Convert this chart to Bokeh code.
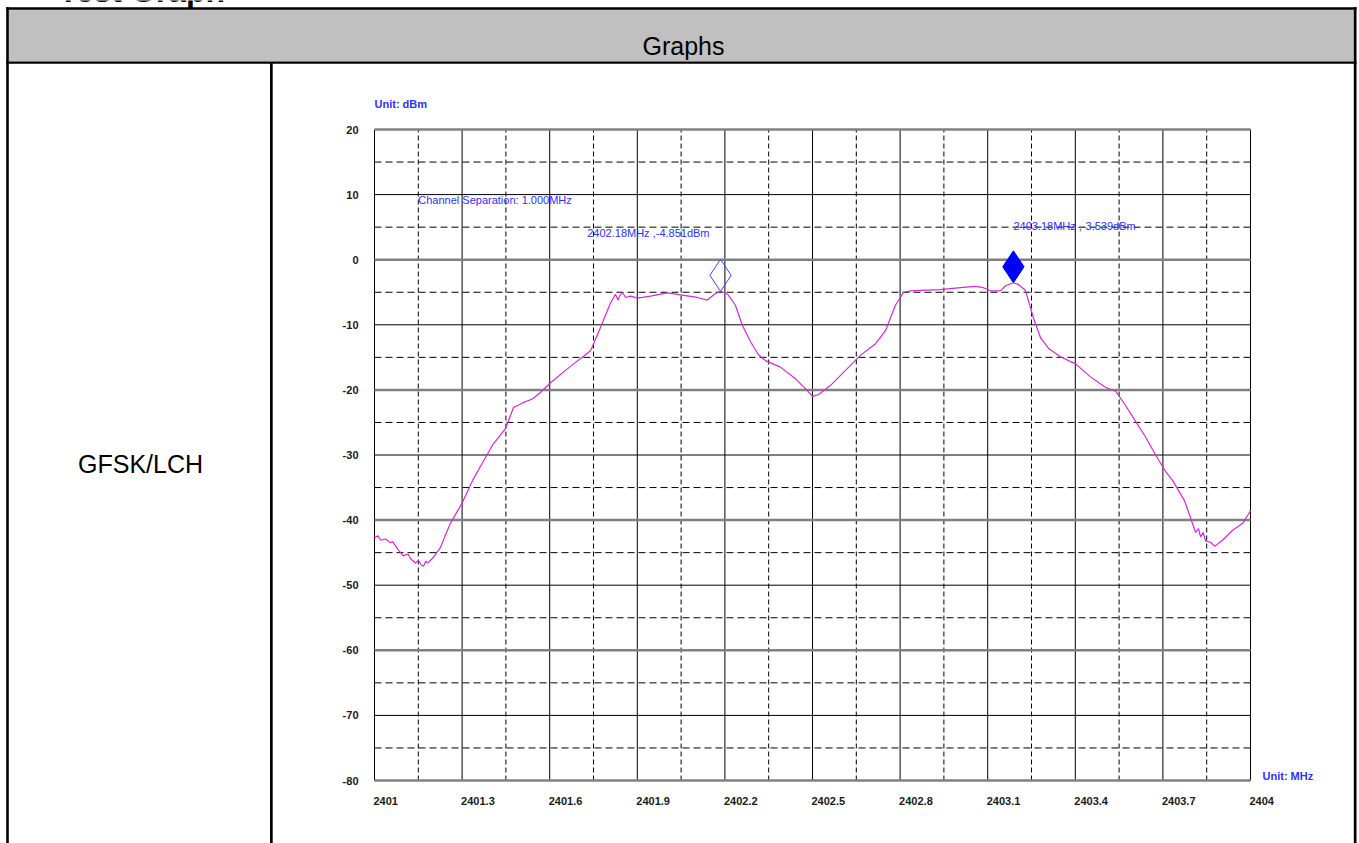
from bokeh.plotting import figure
from bokeh.models import Range1d
from bokeh.core.properties import value
from bokeh.embed import file_html
from bokeh.resources import INLINE

# ---------------- data ----------------
freq = [2401.000, 2401.012, 2401.021, 2401.038, 2401.055, 2401.062, 2401.082, 2401.099,
        2401.115, 2401.123, 2401.140, 2401.151, 2401.160, 2401.168, 2401.176, 2401.182,
        2401.202, 2401.226, 2401.243, 2401.260, 2401.301, 2401.336, 2401.370, 2401.404,
        2401.449, 2401.476, 2401.507, 2401.541, 2401.568, 2401.603, 2401.654, 2401.705,
        2401.740, 2401.774, 2401.808, 2401.825, 2401.834, 2401.839, 2401.849, 2401.860,
        2401.877, 2401.901, 2401.945, 2402.003, 2402.048, 2402.106, 2402.140, 2402.164,
        2402.185, 2402.209, 2402.236, 2402.260, 2402.288, 2402.315, 2402.339, 2402.390,
        2402.442, 2402.476, 2402.500, 2402.521, 2402.562, 2402.613, 2402.664, 2402.716,
        2402.750, 2402.784, 2402.812, 2402.836, 2402.870, 2402.938, 2403.007, 2403.058,
        2403.086, 2403.110, 2403.144, 2403.161, 2403.188, 2403.205, 2403.229, 2403.257,
        2403.281, 2403.308, 2403.349, 2403.401, 2403.452, 2403.503, 2403.538, 2403.572,
        2403.606, 2403.640, 2403.675, 2403.709, 2403.733, 2403.774, 2403.812, 2403.822,
        2403.829, 2403.838, 2403.846, 2403.863, 2403.877, 2403.890, 2403.904, 2403.938,
        2403.973, 2403.997, 2404.000]
level = [-42.7, -42.4, -43.1, -42.9, -43.5, -43.3, -44.6, -45.5,
         -45.2, -45.9, -46.6, -46.2, -46.9, -47.1, -46.3, -46.6,
         -45.7, -44.2, -42.3, -40.5, -37.3, -33.9, -31.2, -28.5,
         -25.9, -22.7, -22.0, -21.4, -20.4, -18.9, -17.0, -15.2,
         -14.0, -10.4, -6.7, -5.3, -6.2, -5.6, -5.0, -5.8,
         -5.6, -5.9, -5.6, -5.1, -5.4, -5.8, -6.2, -5.3,
         -4.85, -5.3, -7.0, -10.1, -12.6, -14.6, -15.5, -16.5,
         -18.3, -19.8, -21.0, -20.7, -19.3, -17.0, -14.7, -12.9,
         -10.9, -7.0, -5.0, -4.8, -4.7, -4.6, -4.3, -4.1,
         -4.3, -4.8, -4.8, -4.0, -3.54, -3.8, -4.7, -9.0,
         -12.0, -13.6, -14.9, -16.0, -18.0, -19.6, -20.2, -22.4,
         -24.8, -27.2, -30.0, -32.5, -33.9, -37.0, -41.9, -41.3,
         -42.6, -41.9, -43.2, -43.4, -44.0, -43.6, -43.1, -41.6,
         -40.5, -38.8, -38.5]

x_ticks = [2401.0, 2401.3, 2401.6, 2401.9, 2402.2, 2402.5, 2402.8, 2403.1, 2403.4, 2403.7, 2404.0]
x_tick_labels = ["2401", "2401.3", "2401.6", "2401.9", "2402.2", "2402.5", "2402.8",
                 "2403.1", "2403.4", "2403.7", "2404"]
x_minor = [2401.15, 2401.45, 2401.75, 2402.05, 2402.35, 2402.65, 2402.95, 2403.25, 2403.55, 2403.85]

y_ticks = [20, 10, 0, -10, -20, -30, -40, -50, -60, -70, -80]
y_tick_labels = ["20", "10", "0", "-10", "-20", "-30", "-40", "-50", "-60", "-70", "-80"]
y_heavy = [20, 0, -20, -40, -60, -80]
y_thin = [10, -10, -30, -50, -70]
y_minor = [15, 5, -5, -15, -25, -35, -45, -55, -65, -75]

mk_freq = [2402.185, 2403.188]
mk_level = [-4.851, -3.539]
mk_text = ["2402.18MHz ,-4.851dBm", "2403.18MHz ,-3.539dBm"]

page_title = "Test Graph"
header_text = "Graphs"
row_text = "GFSK/LCH"
sep_text = "Channel Separation: 1.000MHz"
x_unit = "Unit: MHz"
y_unit = "Unit: dBm"

# ---------------- layout / style ----------------
FONT = value("Liberation Sans")
BLUE = "#3030ff"
TRACE = "#d42ad4"
CW, CH = 1359, 843                     # canvas
FX0, FX1, FY0, FY1 = 374, 1250, 129, 780  # chart area on the canvas (px)

x_lo, x_hi = x_ticks[0], x_ticks[-1]
y_lo, y_hi = y_ticks[-1], y_ticks[0]
mhz_per_px = (x_hi - x_lo) / (FX1 - FX0)
db_per_px = (y_hi - y_lo) / (FY1 - FY0)

p = figure(width=CW, height=CH,
           x_range=Range1d(x_lo - FX0 * mhz_per_px, x_hi + (CW - FX1) * mhz_per_px),
           y_range=Range1d(y_lo - (CH - FY1) * db_per_px, y_hi + FY0 * db_per_px),
           extra_x_ranges={"px": Range1d(0, CW)}, extra_y_ranges={"px": Range1d(CH, 0)},
           x_axis_type=None, y_axis_type=None, min_border=0, outline_line_color=None,
           toolbar_location=None, output_backend="svg",
           background_fill_color="white", border_fill_color="white")

PX = dict(x_range_name="px", y_range_name="px")

# ---- table frame (page layout) ----
p.quad(left=8, right=1353.3, top=9, bottom=61, color="#c0c0c0", line_color=None, **PX)
p.quad(left=[5.7, 5.7, 5.7, 1353.3, 269.5],
       right=[1356, 1356, 8.3, 1356, 272.2],
       top=[6.8, 61, 6.8, 6.8, 62],
       bottom=[9.2, 63.3, CH, CH, CH],
       color="black", line_color=None, **PX)
p.text(x=[58], y=[-10], text=[page_title], text_font=FONT, text_font_size="32px",
       text_font_style="bold", text_color="black", text_align="left",
       text_baseline="middle", **PX)
p.text(x=[683], y=[45], text=[header_text], text_font=FONT, text_font_size="25px",
       text_color="black", text_align="center", text_baseline="middle", **PX)
p.text(x=[140], y=[463], text=[row_text], text_font=FONT, text_font_size="25px",
       text_color="black", text_align="center", text_baseline="middle", **PX)

# ---- chart grid ----
p.segment(x0=x_ticks, y0=y_lo, x1=x_ticks, y1=y_hi, line_color="black", line_width=1)
p.segment(x0=x_minor, y0=y_lo, x1=x_minor, y1=y_hi, line_color="black", line_width=1,
          line_dash="5 3")
p.segment(x0=x_lo, y0=y_minor, x1=x_hi, y1=y_minor, line_color="black", line_width=1,
          line_dash="7 4")
p.segment(x0=x_lo, y0=y_thin, x1=x_hi, y1=y_thin, line_color="black", line_width=1)
p.segment(x0=x_lo, y0=y_heavy, x1=x_hi, y1=y_heavy, line_color="#808080", line_width=2.5)

# ---- tick labels ----
p.text(x=x_ticks, y=y_lo, text=x_tick_labels, x_offset=-1, y_offset=20,
       text_font=FONT, text_font_size="11px", text_font_style="bold", text_color="#1a1a1a",
       text_align="left", text_baseline="middle")
p.text(x=x_lo, y=y_ticks, text=y_tick_labels, x_offset=-16, y_offset=0,
       text_font=FONT, text_font_size="11px", text_font_style="bold", text_color="#1a1a1a",
       text_align="right", text_baseline="middle")
p.text(x=[x_lo], y=[y_hi], text=[y_unit], y_offset=-26, text_font=FONT, text_font_size="11px",
       text_font_style="bold", text_color=BLUE, text_align="left", text_baseline="middle")
p.text(x=[x_hi], y=[y_lo], text=[x_unit], x_offset=12, y_offset=-5, text_font=FONT,
       text_font_size="11px", text_font_style="bold", text_color=BLUE, text_align="left",
       text_baseline="middle")

# ---- trace and markers ----
p.line(freq, level, line_color=TRACE, line_width=1.2)

mk_y = [v + 2.45 for v in mk_level]
p.scatter([mk_freq[0]], [mk_y[0]], marker="diamond", size=32, fill_color=None,
          line_color="#3050ff", line_width=1)
p.scatter([mk_freq[1]], [mk_y[1]], marker="diamond", size=32, fill_color="#0000ff",
          line_color="#0000ff", line_width=1)

p.text(x=[mk_freq[0]], y=[mk_level[0]], text=[mk_text[0]], x_offset=-11, y_offset=-58,
       text_font=FONT, text_font_size="11px", text_color=BLUE, text_align="right",
       text_baseline="middle")
p.text(x=[mk_freq[1]], y=[mk_level[1]], text=[mk_text[1]], x_offset=0, y_offset=-57,
       text_font=FONT, text_font_size="11px", text_color=BLUE, text_align="left",
       text_baseline="middle")
p.text(x=[x_minor[0]], y=[9.1], text=[sep_text], text_font=FONT, text_font_size="11px",
       text_color=BLUE, text_align="left", text_baseline="middle")

open("out.html", "w").write(file_html(p, INLINE))
